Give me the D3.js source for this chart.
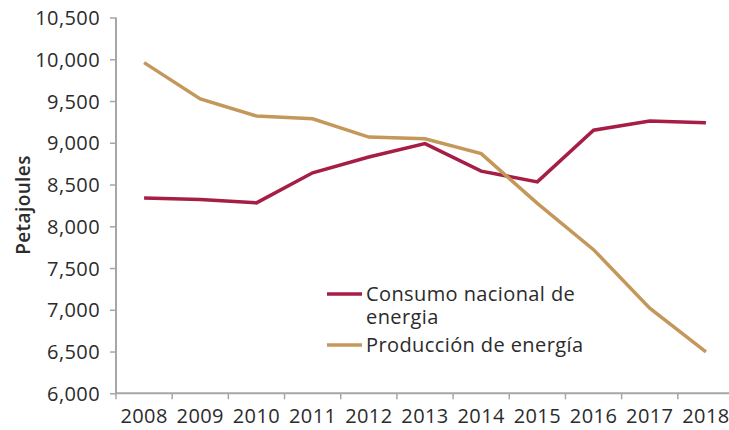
<!DOCTYPE html>
<html>
<head>
<meta charset="utf-8">
<script src="https://cdn.jsdelivr.net/npm/d3@7"></script>
<style>
  body { margin: 0; background: #fff; }
  svg text { font-family: "Open Sans", sans-serif; fill: #2b2b2b; letter-spacing: 0.4px; }
</style>
</head>
<body>
<svg id="chart" width="729" height="430"></svg>
<script>
var years = ["2008", "2009", "2010", "2011", "2012", "2013", "2014", "2015", "2016", "2017", "2018"];
var consumo = [8338, 8320, 8280, 8640, 8830, 8990, 8660, 8532, 9150, 9260, 9240];
var produccion = [9960, 9525, 9320, 9288, 9068, 9048, 8870, 8275, 7720, 7020, 6495];
var yTicks = [6000, 6500, 7000, 7500, 8000, 8500, 9000, 9500, 10000, 10500];
var seriesNames = ["Consumo nacional de energia", "Producción de energía"];
var colors = ["#a61e45", "#c4975b"];

var svg = d3.select("#chart"),
    plotLeft = 116, plotRight = 734, plotTop = 17.5, plotBottom = 393.3;

var x = d3.scaleBand().domain(years).range([plotLeft, plotRight]).padding(0),
    y = d3.scaleLinear().domain([6000, 10500]).range([plotBottom, plotTop]);

var axisColor = "#a6a6a6";

// y axis
var gy = svg.append("g")
    .attr("transform", "translate(" + plotLeft + ",0)")
    .call(d3.axisLeft(y).tickValues(yTicks).tickSize(6).tickPadding(10)
      .tickFormat(d3.format(",")));
gy.select(".domain").attr("stroke", axisColor).attr("stroke-width", 2)
    .attr("d", "M0," + plotTop + "V" + plotBottom);
gy.selectAll(".tick line").attr("stroke", axisColor).attr("stroke-width", 1.5);
gy.selectAll(".tick text").style("font-size", "20px").attr("dy", "0.35em");

// x axis
var gx = svg.append("g")
    .attr("transform", "translate(0," + plotBottom + ")")
    .call(d3.axisBottom(x).tickSize(0).tickPadding(16));
gx.select(".domain").attr("stroke", axisColor).attr("stroke-width", 2)
    .attr("d", "M" + plotLeft + ",0H" + plotRight);
gx.selectAll(".tick text").style("font-size", "20px");
gx.selectAll(".edge")
    .data(years.map(function(d) { return x(d); }).concat([plotRight]))
  .enter().append("line")
    .attr("class", "edge")
    .attr("x1", function(d) { return d; })
    .attr("x2", function(d) { return d; })
    .attr("y1", 0).attr("y2", 6)
    .attr("stroke", axisColor).attr("stroke-width", 1.5);

// y label
svg.append("text")
    .attr("transform", "translate(30,205) rotate(-90)")
    .attr("text-anchor", "middle")
    .style("font-size", "19px")
    .style("font-weight", "600")
    .text("Petajoules");

var line = d3.line()
    .x(function(d, i) { return x(years[i]) + x.bandwidth() / 2; })
    .y(function(d) { return y(d); });

[consumo, produccion].forEach(function(s, i) {
  svg.append("path")
      .datum(s)
      .attr("fill", "none")
      .attr("stroke", colors[i])
      .attr("stroke-width", 3.5)
      .attr("stroke-linejoin", "miter")
      .attr("d", line);
});

// legend
var legend = svg.append("g");
var rows = [
  {color: colors[0], lines: ["Consumo nacional de", "energia"], y: 294},
  {color: colors[1], lines: ["Producción de energía"], y: 345}
];
rows.forEach(function(r) {
  legend.append("line")
      .attr("x1", 327).attr("x2", 362)
      .attr("y1", r.y).attr("y2", r.y)
      .attr("stroke", r.color).attr("stroke-width", 3.5);
  var t = legend.append("text")
      .attr("y", r.y)
      .style("font-size", "20px");
  r.lines.forEach(function(s, j) {
    t.append("tspan")
        .attr("x", 366)
        .attr("y", r.y + j * 22.5)
        .attr("dy", "0.35em")
        .text(s);
  });
});
</script>
</body>
</html>
